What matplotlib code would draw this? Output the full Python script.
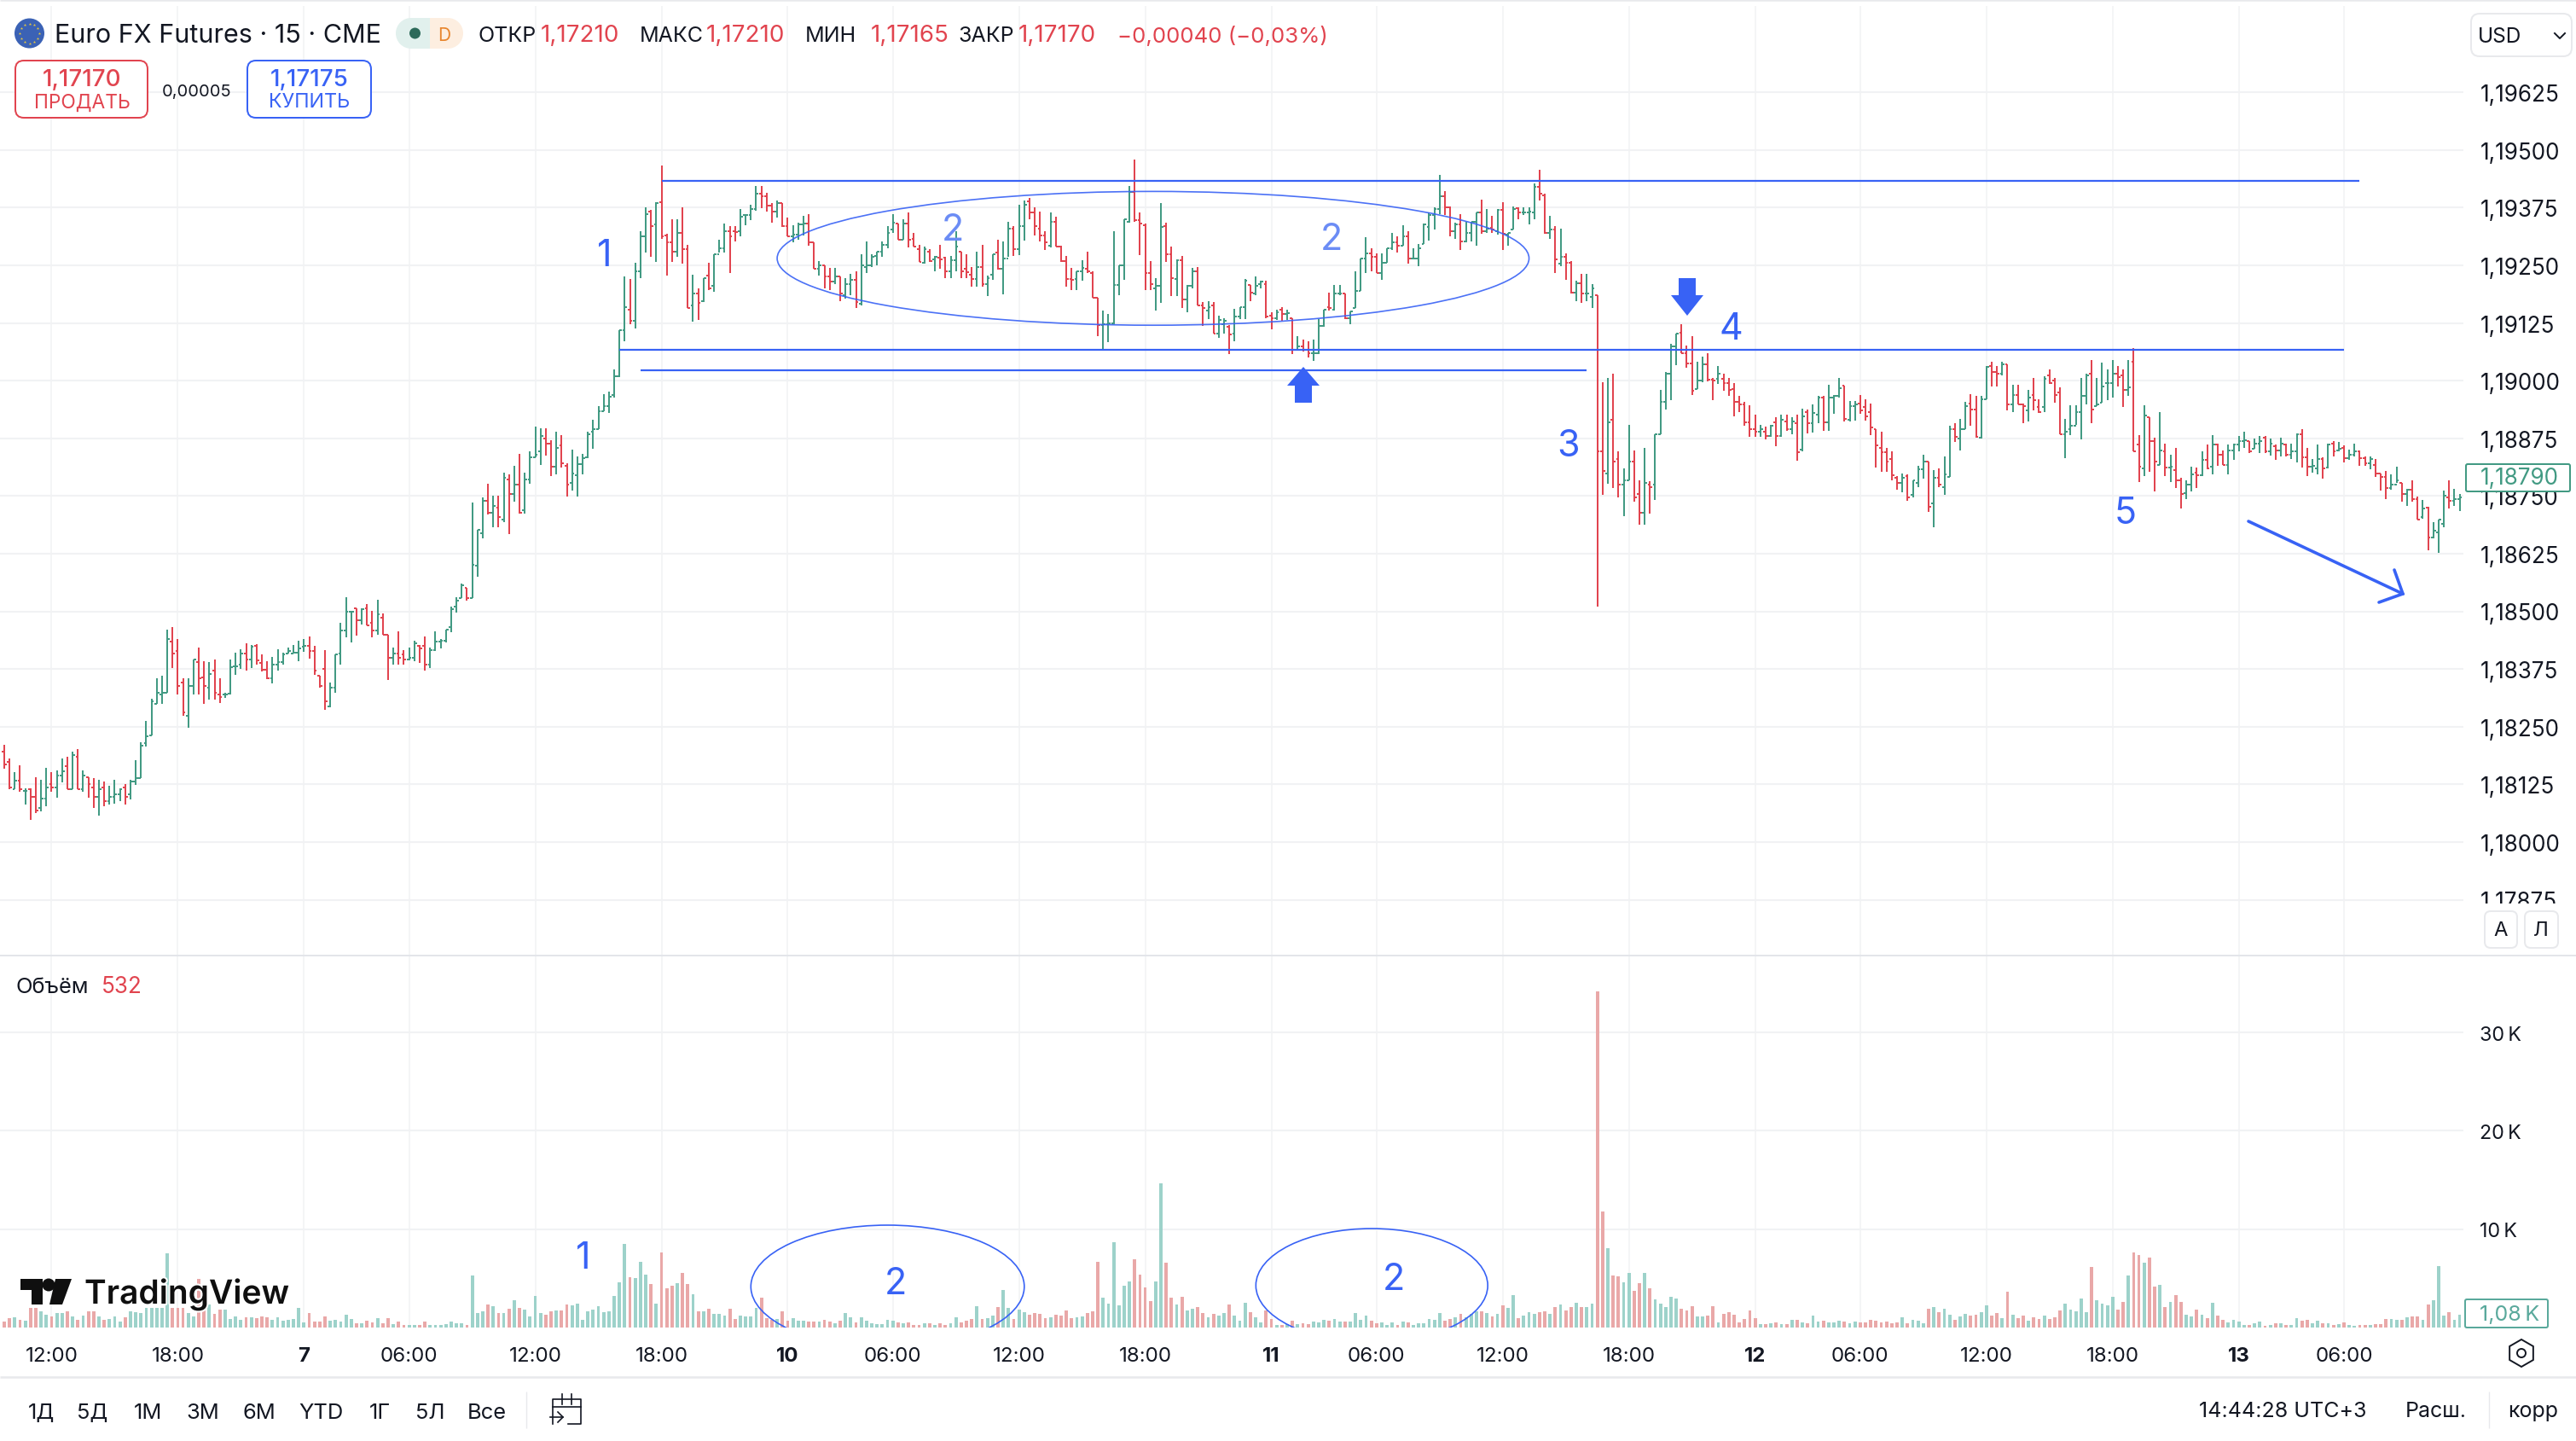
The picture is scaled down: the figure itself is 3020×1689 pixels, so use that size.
import numpy as np
from matplotlib import pyplot as plt
from matplotlib.patches import Ellipse, Circle, FancyBboxPatch, Polygon, Rectangle, RegularPolygon
import matplotlib.patheffects as pe

plt.rcParams['font.family'] = ['Inter', 'DejaVu Sans']

# prices are 1e-5 above 1.18000
high = [211,181,151,167,116,116,141,135,161,151,
156,181,185,196,202,156,141,138,135,132,
121,135,117,125,135,177,217,262,311,355,
360,461,466,440,355,355,396,422,391,390,
396,355,323,396,411,417,431,427,428,407,
391,401,417,411,422,427,436,440,445,425,
360,416,345,407,475,531,500,507,507,515,
501,525,496,449,422,457,416,422,436,427,
445,422,457,440,461,510,531,560,551,736,
676,746,777,750,750,800,797,815,841,800,
847,900,896,896,870,890,882,820,850,835,
841,890,916,945,970,976,1025,1110,1226,1221,
1256,1324,1376,1370,1386,1466,1318,1350,1350,1376,
1295,1230,1200,1222,1256,1274,1305,1341,1335,1335,
1371,1361,1381,1421,1421,1407,1384,1390,1385,1353,
1336,1343,1357,1360,1300,1259,1250,1245,1245,1225,
1222,1231,1236,1274,1301,1274,1280,1301,1335,1361,
1341,1350,1365,1321,1295,1291,1285,1271,1295,1268,
1271,1324,1280,1274,1247,1279,1295,1228,1274,1305,
1301,1345,1335,1381,1390,1395,1376,1367,1324,1365,
1355,1293,1271,1245,1236,1260,1280,1236,1179,1151,
1145,1324,1250,1350,1421,1480,1365,1341,1259,1222,
1385,1343,1291,1262,1271,1207,1244,1246,1170,1173,
1171,1140,1135,1120,1155,1160,1221,1208,1225,1216,
1216,1148,1154,1159,1154,1136,1096,1089,1086,1089,
1133,1154,1190,1207,1207,1189,1150,1236,1265,1310,
1286,1275,1275,1286,1321,1312,1336,1324,1287,1296,
1341,1364,1375,1445,1410,1378,1342,1361,1345,1345,
1365,1392,1371,1357,1371,1386,1321,1377,1376,1376,
1376,1427,1456,1406,1357,1335,1330,1275,1259,1216,
1231,1231,1210,1186,996,1005,1015,846,810,904,
849,784,855,782,883,980,1018,1080,1102,1122,
1076,1097,1040,1052,1060,1006,1031,1015,1005,995,
966,954,946,926,904,901,904,920,926,926,
920,926,940,938,948,966,966,991,969,1005,
990,955,955,969,960,951,895,890,855,846,
793,799,797,784,815,840,824,806,810,835,
902,907,917,954,970,966,966,1031,1040,1031,
1040,1036,991,991,951,980,1005,959,1010,1025,
1005,985,917,946,946,1005,1015,1045,1005,1039,
1025,1045,1031,1025,1045,1070,881,946,920,876,
931,864,840,855,789,784,814,812,846,861,
881,863,849,861,863,880,890,869,874,880,
880,874,861,876,863,864,886,895,855,830,
861,834,864,869,867,860,851,864,849,836,
835,830,798,805,797,814,779,766,784,749,
741,726,694,699,761,784,765,755]

low = [158,114,114,109,82,47,62,67,78,109,
96,129,114,114,114,109,96,73,58,78,
82,83,88,82,93,123,138,207,231,299,
299,323,377,319,273,248,319,319,299,308,
308,302,313,320,363,375,372,377,385,369,
353,343,372,384,408,408,392,412,398,363,
334,287,292,323,384,443,433,448,471,469,
443,449,449,352,384,384,384,393,391,388,
372,377,414,419,433,454,497,529,523,528,
574,659,709,683,683,693,668,738,712,712,
777,834,818,838,794,797,812,748,762,748,
797,831,853,895,934,929,963,1008,1086,1122,
1113,1222,1278,1268,1257,1308,1228,1258,1268,1254,
1157,1128,1131,1170,1196,1192,1278,1278,1233,1302,
1313,1336,1347,1369,1373,1367,1342,1354,1333,1313,
1299,1306,1315,1293,1242,1228,1200,1197,1210,1173,
1177,1185,1157,1163,1234,1247,1250,1268,1287,1320,
1305,1305,1288,1290,1258,1254,1258,1236,1242,1222,
1222,1236,1222,1222,1204,1204,1204,1183,1219,1240,
1187,1268,1271,1272,1304,1349,1315,1301,1284,1288,
1290,1258,1204,1197,1197,1216,1234,1179,1097,1067,
1083,1122,1185,1218,1343,1344,1272,1197,1197,1152,
1168,1258,1184,1184,1157,1149,1200,1163,1119,1133,
1102,1093,1102,1057,1086,1134,1134,1173,1185,1199,
1135,1112,1131,1130,1131,1057,1065,1063,1051,1042,
1057,1117,1151,1151,1185,1133,1122,1157,1194,1234,
1236,1233,1219,1255,1284,1278,1292,1253,1262,1248,
1296,1304,1328,1361,1358,1313,1308,1284,1299,1301,
1292,1318,1321,1321,1316,1284,1292,1328,1349,1358,
1338,1349,1391,1318,1307,1233,1248,1219,1188,1172,
1168,1173,1157,511,752,776,767,747,707,783,
738,687,687,712,742,883,937,958,1033,1059,
1028,968,981,997,999,957,993,978,966,922,
931,902,878,878,878,873,878,857,878,892,
883,827,846,886,887,908,892,892,928,963,
912,912,914,928,914,882,811,803,802,783,
764,758,740,747,769,787,716,682,769,752,
792,867,848,894,902,877,875,960,988,988,
1012,935,932,948,907,912,935,929,932,993,
952,883,832,882,904,872,948,907,944,952,
957,963,988,943,967,846,781,794,803,759,
818,794,781,767,723,743,759,767,794,808,
797,815,818,797,829,847,855,843,853,843,
843,838,829,836,836,830,823,812,794,800,
797,787,810,836,846,823,829,836,816,816,
808,792,761,743,763,778,738,728,738,698,
701,632,658,626,683,723,728,718]

open_ = [195,174,115,133,110,115,98,74,95,125,
119,144,165,115,184,115,140,119,98,119,
89,98,104,119,104,131,138,215,231,300,
320,323,435,414,345,274,339,390,356,335,
371,320,320,322,380,385,409,395,425,388,
374,354,385,390,409,409,410,424,425,414,
360,375,294,335,409,459,500,506,480,506,
475,459,486,449,400,409,406,395,400,425,
425,385,415,435,436,465,510,529,551,528,
599,670,740,714,725,699,785,754,775,719,
785,834,846,874,864,813,860,815,779,795,
819,834,890,895,934,945,969,1009,1110,1154,
1130,1236,1313,1366,1339,1386,1315,1299,1279,1320,
1285,1163,1188,1173,1228,1205,1274,1286,1324,1324,
1323,1359,1358,1371,1406,1400,1380,1366,1384,1334,
1313,1316,1339,1340,1300,1243,1249,1225,1215,1225,
1185,1210,1219,1166,1247,1250,1270,1279,1295,1327,
1341,1305,1341,1307,1285,1255,1279,1262,1266,1266,
1237,1260,1279,1242,1229,1220,1247,1209,1230,1277,
1243,1265,1330,1285,1335,1389,1364,1330,1315,1292,
1345,1291,1259,1220,1220,1236,1242,1234,1179,1120,
1122,1125,1207,1250,1345,1408,1348,1337,1234,1200,
1205,1334,1274,1220,1260,1175,1206,1237,1163,1151,
1162,1102,1122,1117,1102,1138,1159,1208,1188,1210,
1210,1140,1136,1154,1144,1135,1067,1074,1067,1059,
1060,1119,1159,1153,1188,1188,1136,1157,1194,1264,
1275,1268,1234,1256,1286,1299,1292,1312,1264,1265,
1296,1333,1359,1371,1400,1376,1324,1339,1301,1321,
1344,1364,1324,1332,1324,1370,1316,1328,1373,1364,
1365,1364,1420,1401,1320,1328,1253,1268,1256,1190,
1211,1188,1181,1186,847,798,915,830,775,783,
824,754,713,775,774,883,954,1015,1074,1104,
1059,1038,981,1000,1035,1002,1003,1003,995,981,
954,949,909,895,889,889,880,909,880,911,
894,907,850,931,907,926,964,909,964,966,
990,915,944,950,942,932,895,855,844,830,
789,778,794,753,778,808,824,733,789,769,
792,894,875,894,950,938,877,960,1031,1019,
1015,1036,949,968,949,935,969,942,942,1012,
1000,975,883,895,903,931,966,1015,944,952,
994,995,1015,1012,980,1040,861,810,920,869,
818,846,812,806,784,757,775,800,795,829,
814,861,839,818,849,861,869,869,853,864,
876,846,858,849,861,839,846,883,834,814,
810,830,812,864,849,855,832,839,847,832,
821,818,798,791,767,775,778,754,763,744,
704,725,660,671,689,747,740,744]

close = [169,119,133,115,110,98,69,95,119,119,
144,154,115,189,115,144,125,98,115,89,
98,104,115,98,131,138,209,230,305,324,
324,439,409,339,280,339,395,354,339,365,
323,315,320,379,380,408,395,424,393,374,
354,385,390,407,414,410,420,425,414,371,
339,305,335,406,459,500,500,480,505,470,
459,494,449,400,409,400,395,400,430,420,
385,415,435,436,460,505,524,556,529,600,
676,740,714,728,705,789,754,775,714,785,
834,840,880,864,813,854,820,775,799,819,
831,884,895,934,945,965,1010,1110,1159,1130,
1236,1313,1361,1334,1384,1313,1299,1279,1320,1285,
1158,1188,1168,1222,1200,1274,1286,1324,1313,1322,
1355,1359,1371,1406,1400,1380,1366,1384,1334,1313,
1316,1339,1340,1300,1243,1250,1225,1215,1225,1188,
1210,1219,1170,1250,1250,1268,1279,1295,1320,1343,
1305,1341,1305,1291,1258,1285,1259,1268,1262,1236,
1260,1290,1237,1235,1220,1247,1209,1223,1274,1243,
1265,1330,1285,1335,1382,1364,1335,1315,1300,1345,
1291,1259,1220,1218,1236,1244,1236,1179,1120,1122,
1125,1207,1250,1350,1408,1348,1340,1234,1209,1205,
1333,1274,1223,1260,1175,1206,1237,1163,1157,1160,
1102,1131,1130,1100,1138,1159,1216,1190,1206,1215,
1138,1136,1148,1144,1146,1067,1075,1067,1059,1060,
1119,1153,1157,1188,1189,1136,1150,1194,1264,1275,
1268,1234,1256,1286,1299,1292,1312,1264,1265,1287,
1339,1359,1371,1400,1376,1324,1339,1301,1321,1344,
1364,1324,1330,1328,1370,1318,1320,1371,1365,1365,
1366,1420,1405,1320,1328,1262,1268,1256,1190,1211,
1188,1189,1199,847,804,909,824,775,783,824,
747,713,778,769,883,954,1015,1074,1101,1059,
1038,978,1000,1035,1002,1000,1015,995,980,954,
949,909,895,889,895,880,903,880,915,894,
912,845,923,907,929,964,910,964,967,983,
917,944,949,935,922,898,859,844,824,795,
778,789,746,783,808,824,727,789,775,796,
894,878,894,944,938,878,960,1030,1019,1015,
1036,949,968,949,944,964,958,932,1003,994,
969,883,889,903,931,966,1012,938,948,988,
995,1015,1007,980,985,847,814,925,869,824,
849,812,814,784,754,775,796,795,829,809,
861,839,818,849,861,869,870,847,864,869,
846,864,849,864,839,846,883,834,814,815,
830,809,861,847,852,832,839,846,832,821,
830,798,791,767,775,783,754,763,744,698,
723,660,675,698,750,740,744,746]

volume = [580,930,1015,810,725,1970,1970,1680,1305,1160,
1450,1510,1625,1100,755,1220,1625,1680,1100,810,
870,1160,580,1015,1680,1595,1450,1970,1970,1970,
1970,7540,1970,1970,1970,1450,1160,4930,1740,2320,
1390,1800,1800,870,1100,810,1015,1015,930,1160,
1015,810,1015,725,810,870,1970,520,1450,640,
580,1100,700,755,640,1335,870,410,465,725,
520,930,465,930,350,580,230,230,230,290,
640,230,230,230,350,580,435,410,230,5280,
1450,1625,2380,2205,1450,1510,1885,2755,1970,1800,
1160,3190,1510,1275,1625,1740,1740,2320,2260,2465,
810,1680,1800,2145,1595,1625,3190,4640,8500,5105,
4990,6670,5365,4410,2465,7625,3970,4290,4495,5510,
4410,3420,1625,1680,1915,1390,1390,1220,1885,870,
1220,1100,1100,1970,3075,930,810,870,1625,725,
930,725,725,640,580,580,755,640,435,700,
1450,1015,520,1015,700,410,320,320,780,700,
520,435,520,290,230,410,410,230,410,230,
410,1015,490,700,870,2175,870,960,1220,2090,
3830,1970,870,1800,1565,1305,1450,1390,960,1045,
1275,1220,1740,960,1045,1130,1450,1655,6700,3045,
2435,8700,2260,4260,4700,6960,5395,4090,2700,4700,
14700,6610,3045,2350,3130,1740,1915,2090,1480,1045,
1390,1220,1480,2350,1220,700,2520,1565,1045,520,
1740,870,260,260,350,700,350,435,350,610,
520,780,700,870,610,610,610,1480,780,1220,
700,435,520,260,520,260,610,520,260,435,
435,870,780,1480,700,870,1045,1390,1045,1390,
1655,1655,1480,1130,1390,2260,2000,3305,960,1220,
1565,1390,1565,1655,1390,2090,2350,1740,2090,2520,
2090,2090,2435,34200,11830,8090,5305,5220,4610,5570,
3740,4525,5570,4000,2870,2435,2090,3130,2960,1915,
1740,2175,1130,1130,1220,2175,520,1390,1565,1305,
520,870,1740,960,350,350,410,520,350,350,
780,780,520,435,1220,610,700,520,520,700,
610,435,610,520,520,780,700,520,610,435,
520,1045,435,780,700,435,1915,2090,1565,1915,
1305,780,1130,1390,1220,1305,1565,2260,1220,1480,
960,3655,1305,960,1220,700,1045,870,1220,870,
1045,1740,2435,1825,1655,2960,1565,6180,2785,2435,
2260,3130,1825,2610,5305,7655,7395,6610,7135,4175,
4350,2090,2610,3305,2610,1305,1130,1825,1305,960,
2520,1220,780,520,780,610,260,260,435,610,
175,260,435,435,260,260,960,700,780,435,
700,435,435,260,350,520,260,175,260,260,
260,350,350,870,870,780,780,1045,1130,1130,
780,2350,2785,6265,1220,1565,780,1305]

time_pos = [9,33,57,77,101,125,149,169,193,217,241,261,285,309,333,353,377,401,425,445]
time_labels = ['12:00','18:00','7','06:00','12:00','18:00','10','06:00','12:00','18:00',
               '11','06:00','12:00','18:00','12','06:00','12:00','18:00','13','06:00']
price_ticks = [1625,1500,1375,1250,1125,1000,875,750,625,500,375,250,125,0,-125]
price_labels = ['1,19625','1,19500','1,19375','1,19250','1,19125','1,19000','1,18875',
                '1,18750','1,18625','1,18500','1,18375','1,18250','1,18125','1,18000','1,17875']
vol_ticks = [10000,20000,30000]
vol_labels = ['10\u2009K','20\u2009K','30\u2009K']

GREEN = '#429a83'
RED = '#e1444f'
VGREEN = '#9dd2ca'
VRED = '#e9a8a8'
BLUE = '#3862f5'
INK = '#131722'
GRID = '#f1f2f4'
W, H = 3020, 1690
STEP = 6.164
X0 = 5.0

high = np.array(high); low = np.array(low); open_ = np.array(open_); close = np.array(close)
volume = np.array(volume)
x = np.arange(len(high))
up = close >= open_
colors = np.where(up, GREEN, RED)
vcolors = np.where(up, VGREEN, VRED)

fig = plt.figure(figsize=(W / 200, H / 200), dpi=200, facecolor='white')
ax = fig.add_axes([0, (H - 1121) / H, 2888 / W, (1121 - 8) / H], facecolor='none')
vax = fig.add_axes([0, (H - 1557) / H, 2888 / W, (1557 - 1121) / H], facecolor='none')
ui = fig.add_axes([0, 0, 1, 1], facecolor='none', zorder=10)
ui.set_xlim(0, W); ui.set_ylim(H, 0); ui.axis('off')

xlim = (-X0 / STEP, (2888 - X0) / STEP)
for a in (ax, vax):
    a.set_xlim(xlim)
    for s in a.spines.values():
        s.set_visible(False)
    a.set_axisbelow(True)
    a.set_xticks(time_pos)
    a.grid(axis='x', color=GRID, lw=0.55)
    a.grid(axis='y', color=GRID, lw=0.75)
    a.yaxis.tick_right()
    a.tick_params(length=0, labelsize=8.4, labelcolor=INK, pad=7)

# pixel 176.7 is 1,19500 and 67.6 pixels make one 0,00125 step
ax.set_ylim(1500 - (1121 - 176.7) / 67.6 * 125, 1500 + (176.7 - 8) / 67.6 * 125)
ax.set_yticks(price_ticks, price_labels)
ax.tick_params(axis='y', labelsize=9.4)
ax.set_xticklabels([])

ax.vlines(x, low, high, colors=colors, lw=0.72, zorder=3)
ax.hlines(open_, x - 0.45, x, colors=colors, lw=0.72, zorder=3)
ax.hlines(close, x, x + 0.45, colors=colors, lw=0.72, zorder=3)

# drawings on the chart
ax.hlines(1432, 125, 448, color=BLUE, lw=0.8, zorder=4)
ax.hlines(1067, 117, 445, color=BLUE, lw=0.8, zorder=4)
ax.hlines(1022, 121, 301, color=BLUE, lw=0.8, zorder=4)
ax.add_patch(Ellipse((218.5, 1265), 143, 290, fill=False, ec=BLUE, lw=0.6, alpha=0.9, zorder=4))

vax.set_ylim(0, (1557 - 1121) / 115.3 * 10000)
vax.bar(x, volume, width=0.62, color=vcolors, zorder=3)
vax.set_yticks(vol_ticks, vol_labels)
vax.set_xticks(time_pos, time_labels)
vax.tick_params(axis='x', pad=8, labelsize=8.7)
for lab, txt in zip(vax.get_xticklabels(), time_labels):
    if ':' not in txt:
        lab.set_fontweight('bold')
vax.add_patch(Ellipse((168, 4163), 52, 12490, fill=False, ec=BLUE, lw=0.6, zorder=4))
vax.add_patch(Ellipse((260.1, 4276), 44.1, 11570, fill=False, ec=BLUE, lw=0.6, zorder=4))


def t(px, py, s, size=9.0, color=INK, ha='left', weight='normal', z=5, **kw):
    # va center sits a little high in this font
    return ui.text(px, py + 2.5, s, fontsize=size, color=color, ha=ha, va='center', fontweight=weight, zorder=z, **kw)


def box(x0, y0, x1, y1, ec, r=10, fc='white', lw=0.72):
    ui.add_patch(FancyBboxPatch((x0 + r, y0 + r), x1 - x0 - 2 * r, y1 - y0 - 2 * r,
                                boxstyle='round,pad=%d' % r, fc=fc, ec=ec, lw=lw, zorder=4))


# separators
ui.hlines(1121, 0, W, color='#e3e5ea', lw=0.72)
ui.hlines(1615, 0, W, color='#e8e9ec', lw=0.9)
ui.vlines(617, 1632, 1675, color='#e8e9ec', lw=0.5)
ui.vlines(2918, 1632, 1675, color='#e8e9ec', lw=0.5)
ui.hlines(1, 0, W, color='#e8e9ec', lw=0.9)

# text on the drawings
for px, py, s, c in [(709, 298, '1', BLUE), (1117, 268, '2', '#6b8cf5'), (1561, 279, '2', '#6b8cf5'),
                     (1839, 521, '3', BLUE), (2029, 384, '4', BLUE), (2492, 600, '5', BLUE),
                     (684, 1473, '1', BLUE), (1050, 1503, '2', BLUE), (1634, 1498, '2', BLUE)]:
    t(px, py, s, size=15.5, color=c, ha='center')

# block arrows and the trend arrow
ui.add_patch(Polygon([(1528, 431), (1547, 453), (1538, 453), (1538, 473), (1518, 473), (1518, 453), (1509, 453)],
                     fc=BLUE, ec='none', zorder=4))
ui.add_patch(Polygon([(1978, 371), (1997, 347), (1988, 347), (1988, 327), (1968, 327), (1968, 347), (1959, 347)],
                     fc=BLUE, ec='none', zorder=4))
ui.plot([2636, 2817], [612, 697], color=BLUE, lw=1.3, solid_capstyle='round', zorder=4)
ui.plot([2807, 2817, 2789], [669, 697, 707], color=BLUE, lw=1.3, solid_capstyle='round',
        solid_joinstyle='miter', zorder=4)

# header
ui.add_patch(Circle((34.5, 40), 17.5, fc='#3b62b5', ec='none', zorder=4))
star_a = np.arange(12) * np.pi / 6
ui.scatter(34.5 + 11.5 * np.cos(star_a), 40 + 11.5 * np.sin(star_a), s=1.6, color='#e8c93c', marker='*', lw=0, zorder=5)
t(64, 40, 'Euro FX Futures · 15 · CME', size=11)
ui.add_patch(Rectangle((480, 22), 24, 36, fc='#e1f0ed', ec='none', zorder=4))
ui.add_patch(Circle((482, 40), 18, fc='#e1f0ed', ec='none', zorder=4))
ui.add_patch(Rectangle((504, 22), 21, 36, fc='#fdeee0', ec='none', zorder=4))
ui.add_patch(Circle((525, 40), 18, fc='#fdeee0', ec='none', zorder=4))
ui.add_patch(Circle((486.5, 40), 6.5, fc='#2d6a5a', ec='none', zorder=5))
t(521, 40, 'D', size=7.5, color='#e8862e', ha='center')
t(561, 40, 'ОТКР'); t(634, 40, '1,17210', size=10, color=RED)
t(750, 40, 'МАКС'); t(828, 40, '1,17210', size=10, color=RED)
t(944, 40, 'МИН'); t(1021, 40, '1,17165', size=10, color=RED)
t(1123, 40, 'ЗАКР'); t(1194, 40, '1,17170', size=10, color=RED)
t(1310, 40, '\u22120,00040 (\u22120,03%)', size=9.3, color=RED)

box(18, 72, 173, 139, RED)
t(96, 91, '1,17170', size=10, color=RED, ha='center', weight='medium')
t(96, 118, 'ПРОДАТЬ', size=8.2, color=RED, ha='center')
t(231, 105, '0,00005', size=7.2, ha='center')
box(290, 72, 435, 139, BLUE)
t(363, 91, '1,17175', size=10, color=BLUE, ha='center', weight='medium')
t(363, 118, 'КУПИТЬ', size=8.4, color=BLUE, ha='center')

box(2897, 17, 3015, 67, '#e8e9ec')
t(2905, 41, 'USD', size=8.8)
ui.plot([2995, 3001, 3007], [40, 46, 40], color=INK, lw=0.7, zorder=6)

# bottom of the price scale is cut by the pane
ui.add_patch(Rectangle((2889, 1060), W - 2889, 60, fc='white', ec='none', zorder=3))
box(2913, 1069, 2951, 1112, '#e8e9ec', r=7)
box(2960, 1069, 2999, 1112, '#e8e9ec', r=7)
t(2932, 1089, 'А', size=8.6, ha='center')
t(2979, 1089, 'Л', size=8.6, ha='center')

box(2891, 545, 3013, 577, GREEN, r=2)
t(2908, 559, '1,18790', size=9.4, color=GREEN)
box(2890, 1524, 2987, 1557, '#5aa99c', r=2)
t(2907, 1539, '1,08\u2009K', size=9, color='#5aa99c')

t(18, 1155, 'Объём', size=9.2)
t(119, 1155, '532', size=9.4, color=RED)

# logo
ui.add_patch(Polygon([(24, 1500), (50, 1500), (50, 1530), (37, 1530), (37, 1513), (24, 1513)], fc='#0f0f0f', ec='none', zorder=6))
ui.add_patch(Circle((57, 1507), 7.5, fc='#0f0f0f', ec='none', zorder=6))
ui.add_patch(Polygon([(65, 1500), (84, 1500), (73, 1530), (58, 1530)], fc='#0f0f0f', ec='none', zorder=6))
t(99, 1515, 'TradingView', size=14, color='#0f0f0f', weight='semibold', z=6,
  path_effects=[pe.withStroke(linewidth=1.5, foreground='white')])

# bottom bar
for px, s in zip([48, 108, 173, 238, 304, 376, 445, 504, 571],
                 ['1Д', '5Д', '1М', '3М', '6М', 'YTD', '1Г', '5Л', 'Все']):
    t(px, 1654, s, size=9.2, ha='center')
ui.plot([648, 648, 681, 681, 666], [1670, 1641, 1641, 1670, 1670], color=INK, lw=0.6)
ui.plot([648, 681], [1650, 1650], color=INK, lw=0.6)
ui.plot([659, 659], [1635, 1647], color=INK, lw=0.6)
ui.plot([670, 670], [1635, 1647], color=INK, lw=0.6)
ui.plot([645, 660], [1662, 1662], color=INK, lw=0.6)
ui.plot([654, 660, 654], [1656, 1662, 1668], color=INK, lw=0.6)
t(2578, 1652, '14:44:28 UTC+3', size=9)
t(2820, 1652, 'Расш.', size=9)
t(2940, 1652, 'корр', size=9)
ui.add_patch(RegularPolygon((2956, 1587), 6, radius=16, fill=False, ec=INK, lw=0.7, zorder=5))
ui.add_patch(Circle((2956, 1587), 5, fill=False, ec=INK, lw=0.7, zorder=5))

fig.savefig('out.png', dpi=200)
